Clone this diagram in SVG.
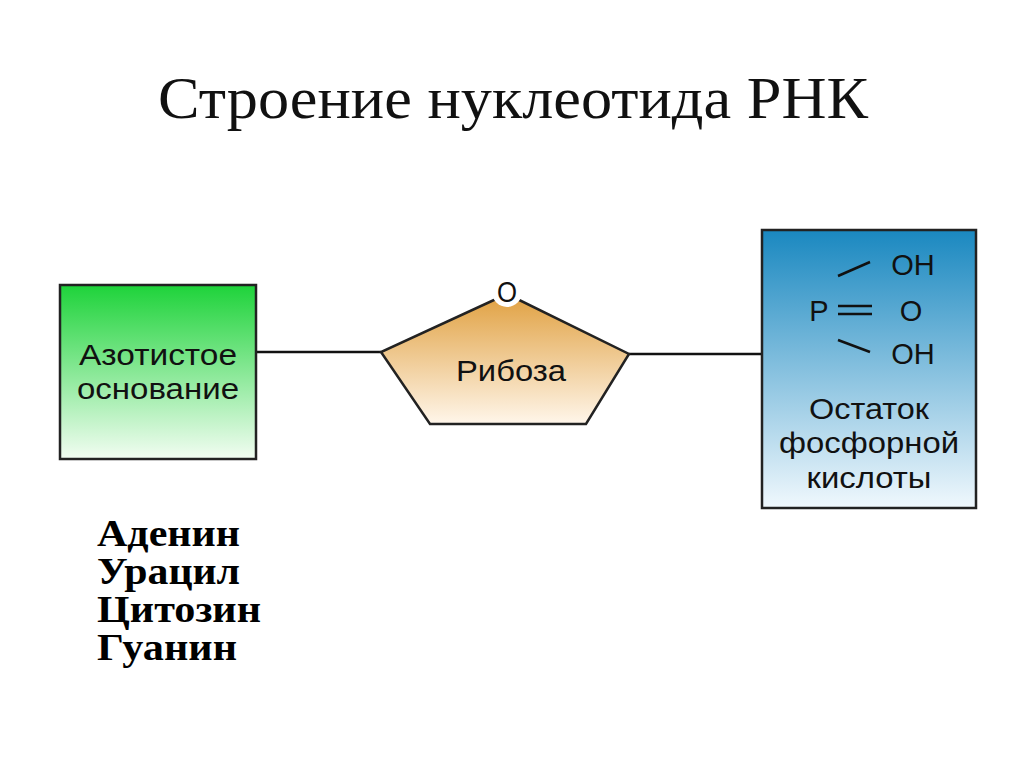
<svg xmlns="http://www.w3.org/2000/svg" width="1024" height="767" viewBox="0 0 1024 767">
<style>
.s{font-family:"Liberation Sans",Arial,sans-serif;font-size:29px;fill:#111;text-anchor:middle}
.b{font-family:"Liberation Serif","Times New Roman",serif;font-weight:bold;font-size:38px;fill:#000}
.l{stroke:#111;stroke-width:2.5;fill:none}
</style>
<defs>
<linearGradient id="g" x1="0" y1="0" x2="0" y2="1"><stop offset="0" stop-color="#1ed33a"/><stop offset="1" stop-color="#f2fdf2"/></linearGradient>
<linearGradient id="o" x1="0" y1="0" x2="0" y2="1"><stop offset="0" stop-color="#e0a040"/><stop offset="1" stop-color="#fff6ea"/></linearGradient>
<linearGradient id="bl" x1="0" y1="0" x2="0" y2="1"><stop offset="0" stop-color="#1a88c0"/><stop offset="1" stop-color="#f0f8fd"/></linearGradient>
</defs>
<rect width="1024" height="767" fill="#fff"/>
<text x="513" y="118" text-anchor="middle" font-family="Liberation Serif,serif" font-size="60" fill="#111" textLength="710" lengthAdjust="spacingAndGlyphs">Строение нуклеотида РНК</text>
<g id="connectors">
<line class="l" x1="256" y1="352" x2="381" y2="352"/>
<line class="l" x1="629" y1="354" x2="762" y2="354"/>
</g>
<g id="base">
<rect x="60" y="285" width="196" height="174" fill="url(#g)" stroke="#222" stroke-width="2.5"/>
<text class="s" x="158" y="365" textLength="158" lengthAdjust="spacingAndGlyphs">Азотистое</text>
<text class="s" x="158" y="399" textLength="162" lengthAdjust="spacingAndGlyphs">основание</text>
</g>
<g id="ribose">
<polygon points="507,294 629,354 586,424 430,424 381,352" fill="url(#o)" stroke="#222" stroke-width="2.5"/>
<circle cx="507" cy="292" r="15" fill="#fff"/>
<text class="s" x="507" y="302" textLength="20" lengthAdjust="spacingAndGlyphs">O</text>
<text class="s" x="511" y="381" textLength="110" lengthAdjust="spacingAndGlyphs">Рибоза</text>
</g>
<g id="phosphate">
<rect x="762" y="230" width="214" height="278" fill="url(#bl)" stroke="#222" stroke-width="2.5"/>
<text class="s" x="913" y="275">OH</text>
<text class="s" x="819" y="321">P</text>
<text class="s" x="911" y="321">O</text>
<text class="s" x="913" y="364">OH</text>
<line class="l" x1="838" y1="276" x2="870" y2="262"/>
<line class="l" x1="838" y1="306" x2="872" y2="306"/>
<line class="l" x1="838" y1="314" x2="872" y2="314"/>
<line class="l" x1="838" y1="340" x2="870" y2="352"/>
<text class="s" x="869" y="419" textLength="120" lengthAdjust="spacingAndGlyphs">Остаток</text>
<text class="s" x="869" y="453" textLength="180" lengthAdjust="spacingAndGlyphs">фосфорной</text>
<text class="s" x="869" y="488" textLength="125" lengthAdjust="spacingAndGlyphs">кислоты</text>
</g>
<text class="b" x="97" y="546" textLength="143" lengthAdjust="spacingAndGlyphs">Аденин</text>
<text class="b" x="97" y="584" textLength="143" lengthAdjust="spacingAndGlyphs">Урацил</text>
<text class="b" x="97" y="622" textLength="164" lengthAdjust="spacingAndGlyphs">Цитозин</text>
<text class="b" x="97" y="660" textLength="140" lengthAdjust="spacingAndGlyphs">Гуанин</text>
</svg>
